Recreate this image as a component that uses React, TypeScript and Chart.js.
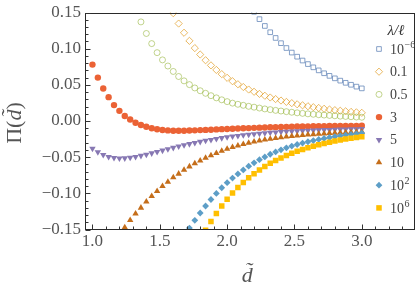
import React, { useEffect, useRef } from 'react';
import { Chart, registerables } from 'chart.js';

Chart.register(...registerables);

const _ = null;

// x grid (d~)
const D = [1.00, 1.04, 1.08, 1.12, 1.16, 1.20, 1.24, 1.28, 1.32, 1.36, 1.40, 1.44, 1.48, 1.52, 1.56, 1.60, 1.64, 1.68, 1.72, 1.76, 1.80, 1.84, 1.88, 1.92, 1.96, 2.00, 2.04, 2.08, 2.12, 2.16, 2.20, 2.24, 2.28, 2.32, 2.36, 2.40, 2.44, 2.48, 2.52, 2.56, 2.60, 2.64, 2.68, 2.72, 2.76, 2.80, 2.84, 2.88, 2.92, 2.96, 3.00];

const lamE_6 = [_, _, _, _, _, _, _, _, _, _, _, _, _, _, _, _, _, _, _, _, _, _, _, _, _, _, _, _, _, _,
  0.151, 0.1408, 0.1314, 0.1227, 0.1148, 0.1076, 0.1009, 0.0946, 0.0889, 0.0836, 0.0787, 0.0742, 0.0700, 0.0660, 0.0624, 0.0590, 0.0558, 0.0528, 0.0501, 0.0475, 0.0451];

const lam0_1 = [_, _, _, _, _, _, _, _, _, _, _, _, _, _, _,
  0.149, 0.1347, 0.1220, 0.1108, 0.1008, 0.0919, 0.0840, 0.0769, 0.0706, 0.0648, 0.0597, 0.0550, 0.0508, 0.0470, 0.0435, 0.0404, 0.0375, 0.0349, 0.0325, 0.0303, 0.0283, 0.0264, 0.0247, 0.0231, 0.0217, 0.0204, 0.0191, 0.0180, 0.0169, 0.0159, 0.0150, 0.0142, 0.0134, 0.0126, 0.0120, 0.0113];

const lam0_5 = [_, _, _, _, _, _, _, _, _,
  0.137, 0.121, 0.107, 0.0945, 0.0845, 0.0760, 0.0685, 0.0615, 0.0555, 0.0503, 0.0457, 0.0418, 0.0383, 0.0350, 0.0320, 0.0293, 0.0268, 0.0247,
  0.0231, 0.0217, 0.0203, 0.0191, 0.0179, 0.0167, 0.0157, 0.0147, 0.0138, 0.0129, 0.0121, 0.0113, 0.0106, 0.0099, 0.0093, 0.0087, 0.0082, 0.0077, 0.0072, 0.0067, 0.0063, 0.0059, 0.0055, 0.0052];

const lam3 = [0.078, 0.060, 0.045, 0.033, 0.022, 0.014, 0.007, 0.002, -0.0025, -0.0055, -0.008, -0.010, -0.0115, -0.0125, -0.013, -0.0134, -0.0135, -0.0134, -0.0132, -0.0129, -0.0126, -0.0123, -0.012, -0.0116, -0.0113, -0.011, -0.0107, -0.0104, -0.0101, -0.0098, -0.0095, -0.0092, -0.009, -0.0087, -0.0085, -0.0083, -0.0081, -0.0079, -0.0077, -0.0075, -0.0074, -0.0073, -0.0072, -0.0071, -0.0070, -0.0069, -0.0068, -0.0068, -0.0067, -0.0067, -0.0066];

const lam5 = [-0.0380, -0.0430, -0.0468, -0.0494, -0.0509, -0.0515, -0.0514, -0.0507, -0.0495, -0.0480, -0.0463, -0.0445, -0.0426, -0.0407, -0.0388, -0.0369, -0.0351, -0.0334, -0.0317, -0.0301, -0.0286, -0.0272, -0.0259, -0.0246, -0.0234, -0.0223, -0.0213, -0.0204, -0.0195, -0.0187, -0.0180, -0.0173, -0.0167, -0.0161, -0.0156, -0.0151, -0.0147, -0.0143, -0.0139, -0.0135, -0.0132, -0.0129, -0.0126, -0.0124, -0.0121, -0.0119, -0.0117, -0.0115, -0.0113, -0.0111, -0.0110];

const lam10 = [_, _, _, _, _, _,
  -0.147, -0.137, -0.128, -0.120, -0.1116, -0.104, -0.097, -0.090, -0.0843, -0.078, -0.073, -0.0675, -0.063, -0.0587, -0.0548, -0.0511, -0.0476, -0.0444, -0.0414, -0.0387, -0.0362, -0.0340, -0.0320, -0.0302, -0.0286, -0.0272, -0.0259, -0.0247, -0.0237, -0.0227, -0.0218, -0.0210, -0.0203, -0.0196, -0.0190, -0.0184, -0.0179, -0.0174, -0.0169, -0.0165, -0.0161, -0.0157, -0.0154, -0.0151, -0.0148];

const lamE2 = [_, _, _, _, _, _, _, _, _, _, _, _, _, _, _, _, _, _,
  -0.148, -0.1373, -0.1272, -0.1175, -0.1085, -0.1001, -0.0923, -0.0852, -0.0789, -0.0731, -0.0677, -0.0625, -0.0578, -0.0535, -0.0496, -0.0460, -0.0428, -0.0398, -0.0371, -0.0347, -0.0325, -0.0305, -0.0287, -0.0270, -0.0255, -0.0241, -0.0228, -0.0216, -0.0205, -0.0195, -0.0186, -0.0177, -0.0169];

const lamE6 = [_, _, _, _, _, _, _, _, _, _, _, _, _, _, _, _, _, _, _, _, _,
  -0.151, -0.139, -0.1278, -0.1176, -0.1082, -0.0997, -0.0920, -0.0850, -0.0786, -0.0728, -0.0676, -0.0628, -0.0585, -0.0546, -0.0510, -0.0477, -0.0446, -0.0418, -0.0393, -0.0370, -0.0348, -0.0328, -0.0310, -0.0293, -0.0277, -0.0263, -0.0250, -0.0238, -0.0227, -0.0217];

const SERIES = [lamE_6, lam0_1, lam0_5, lam3, lam5, lam10, lamE2, lamE6];
const LEGEND_LABELS = ['10^−6', '0.1', '0.5', '3', '5', '10', '10^2', '10^6'];
const LEGEND_TITLE = 'λ/ℓ';
const X_TICKS = [1.0, 1.5, 2.0, 2.5, 3.0];
const Y_TICKS = [-0.15, -0.10, -0.05, 0.00, 0.05, 0.10, 0.15];

const STYLES = [
  { shape: 'rect', r: 3.3, fill: false, color: 'rgba(94,129,181,0.75)' },
  { shape: 'rectRot', r: 3.6, fill: false, color: 'rgba(225,156,36,0.7)' },
  { shape: 'circle', r: 3.0, fill: false, color: 'rgba(143,176,50,0.55)' },
  { shape: 'circle', r: 3.2, fill: true, color: '#EB6235' },
  { shape: 'triangle', rot: 180, r: 3.7, fill: true, color: '#8778B3' },
  { shape: 'triangle', rot: 0, r: 3.7, fill: true, color: '#C56E1A' },
  { shape: 'rectRot', r: 3.4, fill: true, color: '#5D9EC7' },
  { shape: 'rect', r: 3.9, fill: true, color: '#FFBF00' },
];

const SERIF = '"Liberation Serif", "DejaVu Serif", serif';

function drawMarker(ctx: CanvasRenderingContext2D, st: any, x: number, y: number) {
  ctx.beginPath();
  const r = st.r;
  if (st.shape === 'circle') {
    ctx.arc(x, y, r, 0, Math.PI * 2);
  } else if (st.shape === 'rect') {
    const s = Math.SQRT1_2 * r;
    ctx.rect(x - s, y - s, 2 * s, 2 * s);
  } else if (st.shape === 'rectRot') {
    ctx.moveTo(x - r, y); ctx.lineTo(x, y - r); ctx.lineTo(x + r, y); ctx.lineTo(x, y + r); ctx.closePath();
  } else if (st.shape === 'triangle') {
    let rad = ((st.rot || 0) * Math.PI) / 180;
    ctx.moveTo(x + Math.sin(rad) * r, y - Math.cos(rad) * r);
    rad += (2 * Math.PI) / 3;
    ctx.lineTo(x + Math.sin(rad) * r, y - Math.cos(rad) * r);
    rad += (2 * Math.PI) / 3;
    ctx.lineTo(x + Math.sin(rad) * r, y - Math.cos(rad) * r);
    ctx.closePath();
  }
  if (st.fill) { ctx.fillStyle = st.color; ctx.fill(); }
  else { ctx.strokeStyle = st.color; ctx.lineWidth = 1; ctx.stroke(); }
}

function drawParts(ctx: CanvasRenderingContext2D, parts: { t: string; f: string }[], cx: number, cy: number) {
  let w = 0;
  parts.forEach((p) => { ctx.font = p.f; w += ctx.measureText(p.t).width; });
  let x = cx - w / 2;
  ctx.textAlign = 'left';
  ctx.textBaseline = 'middle';
  parts.forEach((p) => { ctx.font = p.f; ctx.fillText(p.t, x, cy); x += ctx.measureText(p.t).width; });
}

const decorPlugin = {
  id: 'decor',
  afterDraw(chart: any) {
    const ctx: CanvasRenderingContext2D = chart.ctx;
    const { left, right, top, bottom } = chart.chartArea;
    const xs = chart.scales.x;
    const ys = chart.scales.y;
    ctx.save();
    // frame
    ctx.strokeStyle = '#2a2a2a';
    ctx.lineWidth = 1;
    const L = Math.round(left) + 0.5, R = Math.round(right) - 0.5, T = Math.round(top) + 0.5, B = Math.round(bottom) - 0.5;
    ctx.strokeRect(L, T, R - L, B - T);
    // ticks
    ctx.strokeStyle = '#333';
    ctx.beginPath();
    for (let k = 10; k <= 33; k++) {
      const px = Math.round(xs.getPixelForValue(k / 10)) + 0.5;
      const len = k % 5 === 0 ? 5 : 3;
      ctx.moveTo(px, B); ctx.lineTo(px, B - len);
    }
    for (let k = -15; k <= 15; k++) {
      const py = Math.round(ys.getPixelForValue(k / 100)) + 0.5;
      const len = k % 5 === 0 ? 5 : 3;
      ctx.moveTo(L, py); ctx.lineTo(L + len, py);
    }
    ctx.stroke();

    // axis titles
    ctx.fillStyle = '#555';
    drawParts(ctx, [{ t: 'd\u0303', f: `italic 22px ${SERIF}` }], (left + right) / 2 - 3, 276);
    ctx.save();
    ctx.translate(15, (top + bottom) / 2 + 2);
    ctx.rotate(-Math.PI / 2);
    drawParts(ctx, [
      { t: 'Π(', f: `22px ${SERIF}` },
      { t: 'd\u0303', f: `italic 22px ${SERIF}` },
      { t: ')', f: `22px ${SERIF}` },
    ], 0, 0);
    ctx.restore();

    // legend
    ctx.fillStyle = '#333';
    drawParts(ctx, [{ t: LEGEND_TITLE, f: `italic 15px ${SERIF}` }], 396, 31);
    const mx = 379, tx = 390, y0 = 49, dy = 22.7;
    LEGEND_LABELS.forEach((lab, i) => {
      const y = y0 + i * dy;
      drawMarker(ctx, STYLES[i], mx, y);
      const [base, sup] = lab.split('^');
      ctx.fillStyle = '#444';
      ctx.textAlign = 'left';
      ctx.textBaseline = 'middle';
      ctx.font = `14px ${SERIF}`;
      ctx.fillText(base, tx, y + 1);
      if (sup) {
        const w = ctx.measureText(base).width;
        ctx.font = `10px ${SERIF}`;
        ctx.fillText(sup, tx + w + 0.5, y - 4);
      }
    });
    ctx.restore();
  },
};

export default function App() {
  const ref = useRef<HTMLCanvasElement>(null);
  useEffect(() => {
    document.body.style.margin = '0';
    const datasets = SERIES.map((vals, i) => {
      const st: any = STYLES[i];
      const data = D.map((x, j) => (vals[j] == null ? null : { x, y: vals[j] as number })).filter(Boolean);
      return {
        label: LEGEND_LABELS[i],
        data,
        showLine: false,
        order: -i,
        pointStyle: st.shape,
        rotation: st.rot || 0,
        pointRadius: st.r,
        pointHoverRadius: st.r,
        backgroundColor: st.fill ? st.color : 'rgba(0,0,0,0)',
        borderColor: st.fill ? st.color : st.color,
        borderWidth: st.fill ? 0 : 1,
      };
    });
    const chart = new Chart(ref.current as HTMLCanvasElement, {
      type: 'scatter',
      data: { datasets } as any,
      options: {
        animation: false,
        responsive: false,
        devicePixelRatio: 1,
        layout: { padding: { top: 9.5, right: 2.5, left: 0, bottom: 0 } },
        plugins: { legend: { display: false }, tooltip: { enabled: false } },
        scales: {
          x: {
            type: 'linear',
            min: 0.9446,
            max: 3.398,
            grid: { display: false, drawTicks: false },
            border: { display: false },
            afterBuildTicks: (s: any) => { s.ticks = X_TICKS.map((v) => ({ value: v })); },
            afterFit: (s: any) => { s.height = 63.5; },
            ticks: {
              padding: 4,
              color: '#555',
              font: { family: SERIF, size: 17, lineHeight: 1 },
              callback: (v: any) => Number(v).toFixed(1),
            },
          },
          y: {
            type: 'linear',
            min: -0.15,
            max: 0.15,
            grid: { display: false, drawTicks: false },
            border: { display: false },
            afterBuildTicks: (s: any) => { s.ticks = Y_TICKS.map((v) => ({ value: v })); },
            afterFit: (s: any) => { s.width = 85; },
            ticks: {
              padding: 4,
              color: '#555',
              font: { family: SERIF, size: 17, lineHeight: 1 },
              callback: (v: any) => Number(v).toFixed(2).replace('-', '−'),
            },
          },
        },
      } as any,
      plugins: [decorPlugin],
    });
    return () => chart.destroy();
  }, []);
  return (
    <div style={{ width: 420, height: 293 }}>
      <canvas ref={ref} width={420} height={293} style={{ width: 420, height: 293, display: 'block' }} />
    </div>
  );
}
